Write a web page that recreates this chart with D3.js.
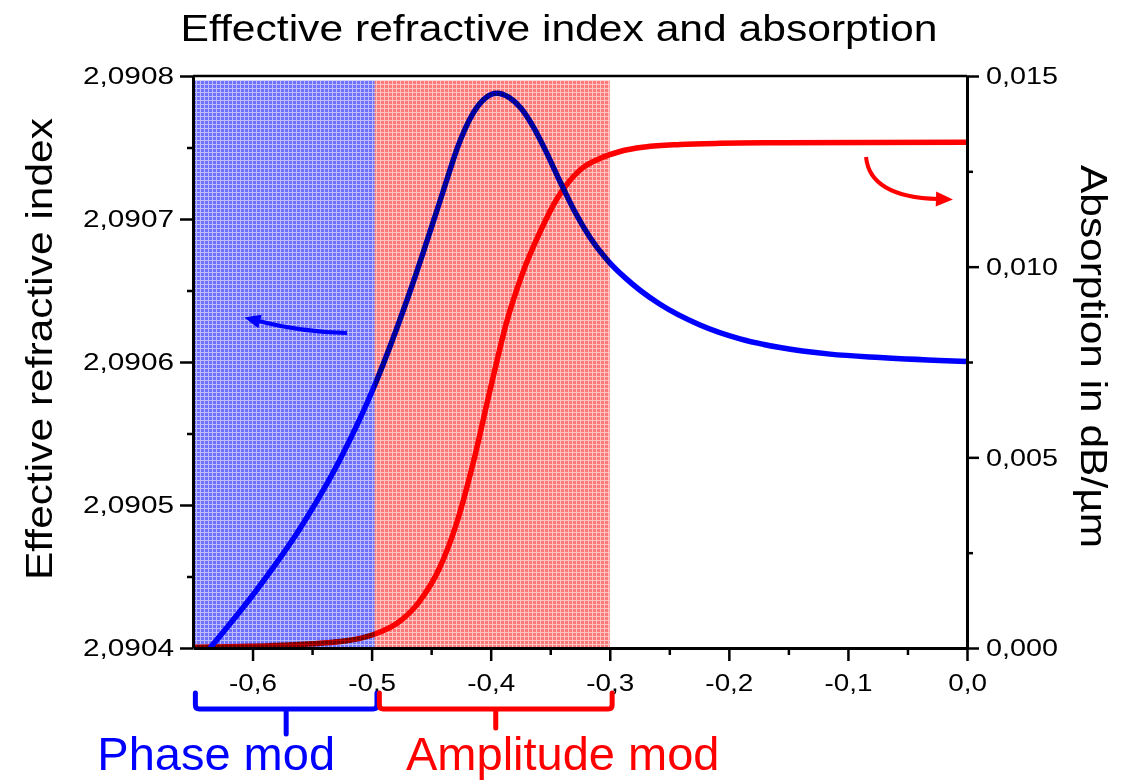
<!DOCTYPE html>
<html>
<head>
<meta charset="utf-8">
<script src="https://cdn.jsdelivr.net/npm/d3@7"></script>
<style>
  body { margin: 0; background: #fff; }
  svg { display: block; }
</style>
</head>
<body>
<svg id="chart" width="1122" height="781"></svg>
<script>
// ---- data -------------------------------------------------------------
// effective refractive index (left axis)
const nX = [-0.63572, -0.59373, -0.56014, -0.52655, -0.49716, -0.46776, -0.44257, -0.43417,
            -0.4283, -0.42158, -0.41486, -0.40478, -0.3947, -0.38462, -0.37455, -0.36447,
            -0.35439, -0.3418, -0.3292, -0.3166, -0.2998, -0.28721, -0.27461, -0.25782,
            -0.22423, -0.19063, -0.15704, -0.11505, -0.07306, 0.0];
const nEff = [2.0904000, 2.0904437, 2.0904836, 2.0905318, 2.0905843, 2.0906493, 2.0907126, 2.0907343,
              2.0907490, 2.0907629, 2.0907739, 2.0907844, 2.0907879, 2.0907850, 2.0907774, 2.0907648,
              2.0907487, 2.0907262, 2.0907049, 2.0906871, 2.0906692, 2.0906590, 2.0906502, 2.0906404,
              2.0906259, 2.0906162, 2.0906101, 2.0906055, 2.0906031, 2.0906003];

// absorption in dB/µm (right axis)
const aX = [-0.65, -0.60213, -0.56854, -0.54335, -0.52655, -0.50976, -0.49716, -0.47868,
            -0.46105, -0.44257, -0.4283, -0.41486, -0.40058, -0.3863, -0.37287, -0.35859,
            -0.34431, -0.325, -0.3082, -0.29141, -0.27041, -0.24102, -0.20743, -0.15704, 0.0];
const absorption = [0.000021, 0.0000446, 0.0000787, 0.000123, 0.00017, 0.000254, 0.000367, 0.000648,
                    0.001172, 0.002124, 0.003304, 0.004836, 0.006753, 0.00858, 0.00986, 0.010909,
                    0.01178, 0.012535, 0.012837, 0.01302, 0.013138, 0.013204, 0.013235, 0.013251, 0.013262];

// ticks
const xTicks = [-0.6, -0.5, -0.4, -0.3, -0.2, -0.1, 0.0];
const xMinorTicks = [-0.55, -0.45, -0.35, -0.25, -0.15, -0.05];
const nTicks = [2.0904, 2.0905, 2.0906, 2.0907, 2.0908];
const nMinorTicks = [2.09045, 2.09055, 2.09065, 2.09075];
const aTicks = [0, 0.005, 0.010, 0.015];
const aMinorTicks = [0.0025, 0.0075, 0.0125];

// operating regions
const phaseRange = [-0.65, -0.4975];
const ampRange = [-0.4975, -0.30];
const bandTop = 2.090797;
const phaseBrace = [-0.648, -0.4955];
const ampBrace = [-0.4935, -0.298];

// annotation arrows: start, control, end (data units)
const nArrow = [[-0.5207, 2.0906203], [-0.5589, 2.0906210], [-0.5954, 2.0906287]];
const aArrow = [[-0.0848, 0.012876], [-0.0815, 0.011827], [-0.0244, 0.011774]];

// ---- setup ------------------------------------------------------------
const FONT = "Arial, 'Liberation Sans', Helvetica, sans-serif";
const BLUE = "#0000ff", RED = "#ff0000";
const svg = d3.select("#chart");

const x = d3.scaleLinear().domain([-0.65, 0]).range([193, 967]);
const yN = d3.scaleLinear().domain([2.0904, 2.0908]).range([648, 76]);
const yA = d3.scaleLinear().domain([0, 0.015]).range([648, 76]);

const loc = d3.formatLocale({decimal: ",", thousands: ".", grouping: [3], currency: ["", ""], minus: "-"});
const fx = loc.format(".1f"), fn = loc.format(".4f"), fa = loc.format(".3f");

// widen text along its baseline, by factor or to a fixed length
function stretch(sel, k) {
  sel.each(function () {
    const L = this.getComputedTextLength();
    this.setAttribute("textLength", L * k);
    this.setAttribute("lengthAdjust", "spacingAndGlyphs");
  });
}
function fitLength(sel, len) {
  sel.attr("textLength", len).attr("lengthAdjust", "spacingAndGlyphs");
}

// hatched fill patterns
const defs = svg.append("defs");
function grid(id, cell, line) {
  const p = defs.append("pattern").attr("id", id).attr("patternUnits", "userSpaceOnUse")
    .attr("width", 4).attr("height", 4);
  p.append("rect").attr("width", 4).attr("height", 4).attr("fill", cell);
  p.append("rect").attr("width", 4).attr("height", 1).attr("fill", line);
  p.append("rect").attr("y", 1).attr("width", 1).attr("height", 3).attr("fill", line);
}
grid("gridBlue", "rgb(112,112,255)", "rgb(190,190,255)");
grid("gridRed", "rgb(255,120,120)", "rgb(255,198,198)");

defs.append("clipPath").attr("id", "plotClip").append("rect")
  .attr("x", x.range()[0]).attr("y", yN.range()[1])
  .attr("width", x.range()[1] - x.range()[0]).attr("height", yN.range()[0] - yN.range()[1]);

// ---- curves -----------------------------------------------------------
const plot = svg.append("g").attr("clip-path", "url(#plotClip)");
const curve = d3.curveMonotoneX;
plot.append("path").datum(d3.zip(aX, absorption))
  .attr("fill", "none").attr("stroke", RED).attr("stroke-width", 5.5).attr("stroke-linejoin", "round")
  .attr("d", d3.line().x(d => x(d[0])).y(d => yA(d[1])).curve(curve));
plot.append("path").datum(d3.zip(nX, nEff))
  .attr("fill", "none").attr("stroke", BLUE).attr("stroke-width", 5.5).attr("stroke-linejoin", "round")
  .attr("d", d3.line().x(d => x(d[0])).y(d => yN(d[1])).curve(curve));

// shaded regions are multiplied over the curves
svg.append("rect")
  .attr("x", x(phaseRange[0]) + 2).attr("y", yN(bandTop))
  .attr("width", x(phaseRange[1]) - x(phaseRange[0]) - 2).attr("height", yN(2.0904) - yN(bandTop))
  .attr("fill", "url(#gridBlue)").style("mix-blend-mode", "multiply");
svg.append("rect")
  .attr("x", x(ampRange[0])).attr("y", yN(bandTop))
  .attr("width", x(ampRange[1]) - x(ampRange[0])).attr("height", yN(2.0904) - yN(bandTop))
  .attr("fill", "url(#gridRed)").style("mix-blend-mode", "multiply");

// ---- arrows -----------------------------------------------------------
function arrow(pts, sx, sy, color, width, head) {
  const p = pts.map(d => [sx(d[0]), sy(d[1])]);
  svg.append("path")
    .attr("d", `M${p[0][0]},${p[0][1]}Q${p[1][0]},${p[1][1]} ${p[2][0]},${p[2][1]}`)
    .attr("fill", "none").attr("stroke", color).attr("stroke-width", width);
  const dx = p[2][0] - p[1][0], dy = p[2][1] - p[1][1], L = Math.hypot(dx, dy);
  const ux = dx / L, uy = dy / L, nx = -uy, ny = ux;
  const b = [p[2][0] - ux * 2, p[2][1] - uy * 2];
  const tip = [p[2][0] + ux * head, p[2][1] + uy * head];
  const hw = head * 0.5;
  svg.append("path")
    .attr("d", `M${tip[0]},${tip[1]}L${b[0] + nx * hw},${b[1] + ny * hw}L${b[0] - nx * hw},${b[1] - ny * hw}Z`)
    .attr("fill", color);
}
arrow(nArrow, x, yN, BLUE, 4, 14);
arrow(aArrow, x, yA, RED, 4, 15);

// ---- axes -------------------------------------------------------------
function styleAxis(k) {
  return g => {
    g.attr("font-family", FONT).attr("font-size", 24);
    g.select(".domain").attr("stroke", "#000").attr("stroke-width", 3);
    g.selectAll(".tick line").attr("stroke", "#000").attr("stroke-width", 2.5);
    g.selectAll(".tick text").attr("fill", "#000").call(stretch, k);
  };
}
function minor(g) {
  g.select(".domain").remove();
  g.selectAll(".tick line").attr("stroke", "#000").attr("stroke-width", 2.5);
}

svg.append("g").attr("transform", `translate(0,${yN.range()[0]})`)
  .call(d3.axisBottom(x).tickValues(xMinorTicks).tickSize(7).tickFormat("")).call(minor);
svg.append("g").attr("transform", `translate(${x.range()[0]},0)`)
  .call(d3.axisLeft(yN).tickValues(nMinorTicks).tickSize(6).tickFormat("")).call(minor);
svg.append("g").attr("transform", `translate(${x.range()[1]},0)`)
  .call(d3.axisRight(yA).tickValues(aMinorTicks).tickSize(6).tickFormat("")).call(minor);

svg.append("g").attr("transform", `translate(0,${yN.range()[0]})`)
  .call(d3.axisBottom(x).tickValues(xTicks).tickFormat(fx).tickSize(13).tickSizeOuter(0).tickPadding(13))
  .call(styleAxis(1.16));
svg.append("g").attr("transform", `translate(${x.range()[0]},0)`)
  .call(d3.axisLeft(yN).tickValues(nTicks).tickFormat(fn).tickSize(13).tickSizeOuter(0).tickPadding(6))
  .call(styleAxis(1.24));
svg.append("g").attr("transform", `translate(${x.range()[1]},0)`)
  .call(d3.axisRight(yA).tickValues(aTicks).tickFormat(fa).tickSize(12).tickSizeOuter(0).tickPadding(7))
  .call(styleAxis(1.2));

// top frame line
svg.append("line")
  .attr("x1", x.range()[0]).attr("x2", x.range()[1])
  .attr("y1", yN.range()[1]).attr("y2", yN.range()[1])
  .attr("stroke", "#000").attr("stroke-width", 2.5);

// ---- titles -----------------------------------------------------------
svg.append("text").attr("x", 559).attr("y", 41).attr("text-anchor", "middle")
  .attr("font-family", FONT).attr("font-size", 36)
  .text("Effective refractive index and absorption").call(fitLength, 757);
svg.append("text").attr("transform", "translate(52,349) rotate(-90)").attr("text-anchor", "middle")
  .attr("font-family", FONT).attr("font-size", 36)
  .text("Effective refractive index").call(fitLength, 462);
svg.append("text").attr("transform", "translate(1081,356.5) rotate(90)").attr("text-anchor", "middle")
  .attr("font-family", FONT).attr("font-size", 36)
  .text("Absorption in dB/µm").call(fitLength, 383);

// ---- region braces ----------------------------------------------------
function brace(range, color, stub) {
  const x0 = x(range[0]), x1 = x(range[1]), xc = (x0 + x1) / 2;
  const yTop = yN.range()[0] + 45, yBar = yN.range()[0] + 61, r = 4;
  svg.append("path")
    .attr("d", `M${x0},${yTop}V${yBar - r}Q${x0},${yBar} ${x0 + r},${yBar}H${x1 - r}Q${x1},${yBar} ${x1},${yBar - r}V${yTop}` +
               `M${xc},${yBar}V${yBar + stub}`)
    .attr("fill", "none").attr("stroke", color).attr("stroke-width", 5)
    .attr("stroke-linecap", "round").attr("stroke-linejoin", "round");
}
brace(phaseBrace, BLUE, 25);
brace(ampBrace, RED, 19);

svg.append("text").attr("x", x((phaseBrace[0] + phaseBrace[1]) / 2) - 70).attr("y", 770)
  .attr("text-anchor", "middle").attr("font-family", FONT).attr("font-size", 47)
  .attr("fill", BLUE).text("Phase mod");
svg.append("text").attr("x", x((ampBrace[0] + ampBrace[1]) / 2) + 67).attr("y", 770)
  .attr("text-anchor", "middle").attr("font-family", FONT).attr("font-size", 47)
  .attr("fill", RED).text("Amplitude mod");
</script>
</body>
</html>
